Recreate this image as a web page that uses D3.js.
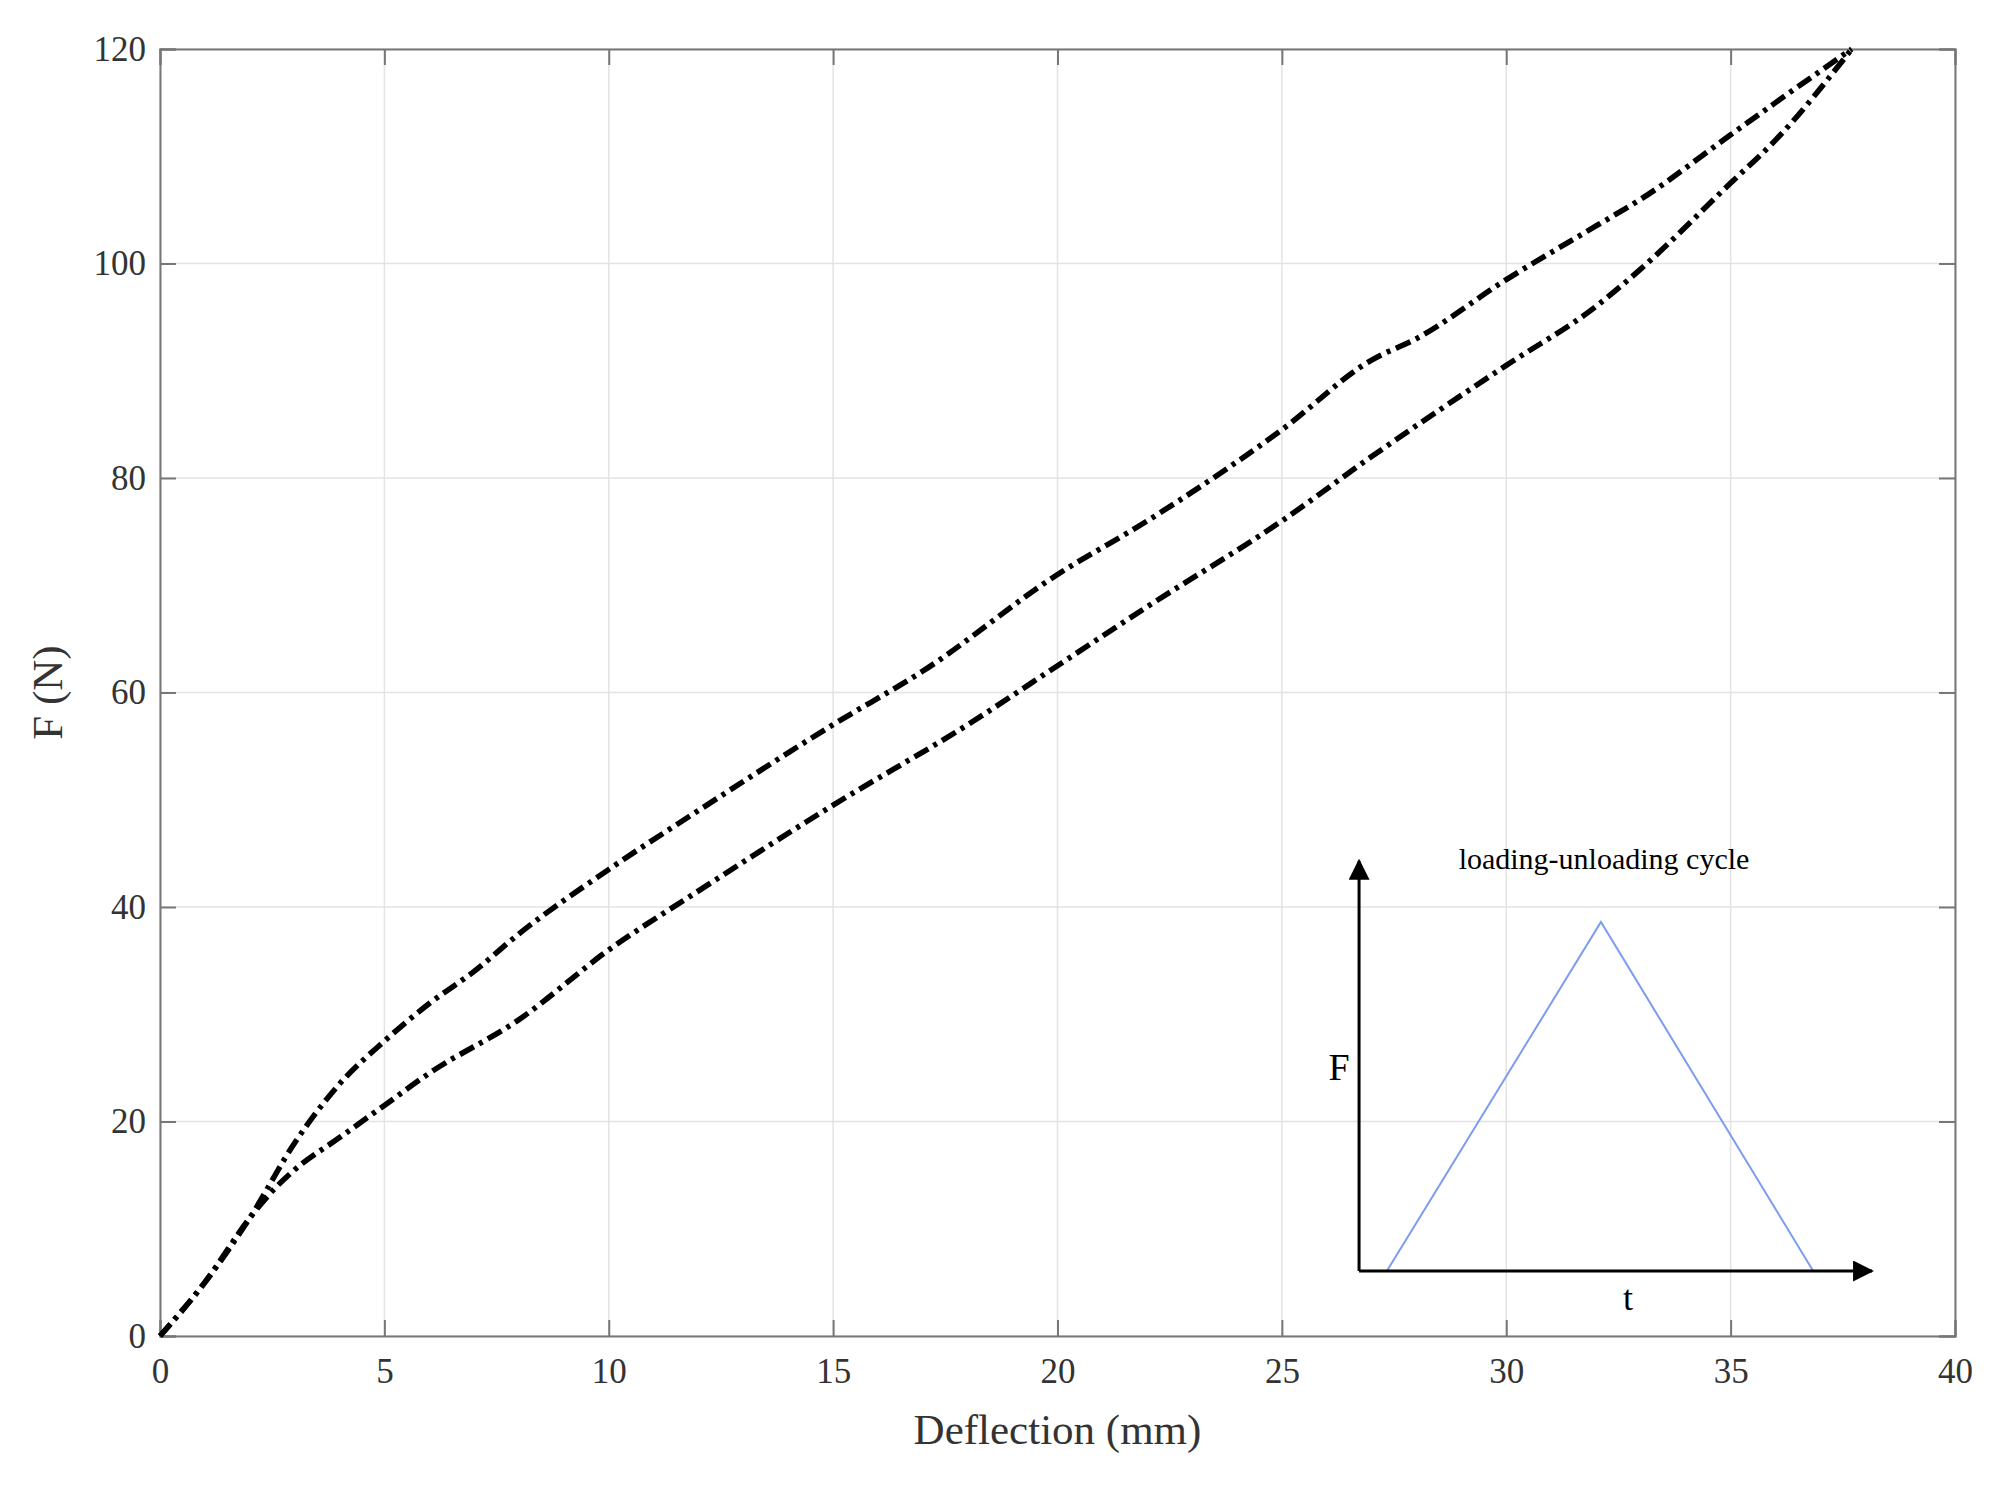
<!DOCTYPE html><html><head><meta charset="utf-8">
<script src="https://cdn.jsdelivr.net/npm/d3@7"></script>
<style>body{margin:0;background:#fff}text{font-family:"Liberation Serif",serif;fill:#333}</style></head><body>
<svg id="c" width="1999" height="1488"></svg>
<script>
const xTicks=[0,5,10,15,20,25,30,35,40];
const yTicks=[0,20,40,60,80,100,120];
const upperX=[0,1,2,3,4,5,6,7,8,10,12,15,17,20,22,25,27,28,30,32,33,35,36,37.7];
const upperF=[0,5,11,18,23.5,27.5,31,34,37.5,43.5,49,57,62,71,76,84.5,91,93,98.5,103.5,106,112,115,120];
const lowerX=[0,1,2,2.5,3,4,5,6,8,10,12,15,18,20,22,25,27,30,32,33,35,36,37.7];
const lowerF=[0,5,11,13.5,15.5,18.5,21.5,24.5,29.5,36,41.5,49.5,57,62.5,68,76,82,90.5,96,99.5,107.5,111.5,120];
const insetTriX=[27.34,32.11,36.84], insetTriF=[6.06,38.6,6.06];
const insetAxisX=[26.72,38.15], insetAxisF=[6.06,44.3];

const svg=d3.select("#c");
const L=160,R=1955,T=49,B=1336;
const x=d3.scaleLinear().domain([0,40]).range([L,R]);
const y=d3.scaleLinear().domain([0,120]).range([B,T]);
const g=svg.append("g");
// grid
g.selectAll(".gx").data(xTicks).join("line").attr("x1",d=>x(d)).attr("x2",d=>x(d)).attr("y1",T).attr("y2",B).attr("stroke","#e3e3e3").attr("stroke-width",1.5);
g.selectAll(".gy").data(yTicks).join("line").attr("y1",d=>y(d)).attr("y2",d=>y(d)).attr("x1",L).attr("x2",R).attr("stroke","#e3e3e3").attr("stroke-width",1.5);
// axes
const ax=svg.append("g").attr("transform",`translate(0,${B})`).call(d3.axisBottom(x).tickValues(xTicks).tickSize(-16).tickPadding(22));
const ay=svg.append("g").attr("transform",`translate(${L},0)`).call(d3.axisLeft(y).tickValues(yTicks).tickSize(-16).tickPadding(14));
svg.append("g").attr("transform",`translate(0,${T})`).call(d3.axisTop(x).tickValues(xTicks).tickSize(-16).tickFormat(""));
svg.append("g").attr("transform",`translate(${R},0)`).call(d3.axisRight(y).tickValues(yTicks).tickSize(-16).tickFormat(""));
svg.selectAll(".domain,.tick line").attr("stroke","#777").attr("stroke-width",2);
svg.selectAll(".tick text").attr("font-size",35).attr("font-family","Liberation Serif").attr("fill","#333");
svg.append("text").attr("x",(L+R)/2).attr("y",1444).attr("text-anchor","middle").attr("font-size",43).text("Deflection (mm)");
svg.append("text").attr("transform",`translate(62,${(T+B)/2}) rotate(-90)`).attr("text-anchor","middle").attr("font-size",43).text("F (N)");
// curves
const line=d3.line().x(d=>x(d[0])).y(d=>y(d[1])).curve(d3.curveMonotoneX);
[[upperX,upperF],[lowerX,lowerF]].forEach(([xs,fs])=>{
 svg.append("path").attr("d",line(xs.map((v,i)=>[v,fs[i]]))).attr("fill","none").attr("stroke","#000").attr("stroke-width",5.5).attr("stroke-dasharray","16,6,4,6");
});
// inset
svg.append("defs").append("marker").attr("id","ar").attr("viewBox","0 0 10 10").attr("refX",9).attr("refY",5).attr("markerWidth",7).attr("markerHeight",7).attr("orient","auto").append("path").attr("d","M0,0L10,5L0,10z").attr("fill","#000");
const tl=d3.line().x(d=>x(d[0])).y(d=>y(d[1]));
svg.append("path").attr("d",tl(insetTriX.map((v,i)=>[v,insetTriF[i]]))).attr("fill","none").attr("stroke","#7b9cf0").attr("stroke-width",2);
svg.append("line").attr("x1",x(insetAxisX[0])).attr("y1",y(insetAxisF[0])).attr("x2",x(insetAxisX[0])).attr("y2",y(insetAxisF[1])).attr("stroke","#000").attr("stroke-width",3).attr("marker-end","url(#ar)");
svg.append("line").attr("x1",x(insetAxisX[0])).attr("y1",y(insetAxisF[0])).attr("x2",x(insetAxisX[1])).attr("y2",y(insetAxisF[0])).attr("stroke","#000").attr("stroke-width",3).attr("marker-end","url(#ar)");
svg.append("text").attr("x",1604).attr("y",869).attr("text-anchor","middle").attr("font-size",30).attr("fill","#000").style("fill","#000").text("loading-unloading cycle");
svg.append("text").attr("x",1339).attr("y",1080).attr("text-anchor","middle").attr("font-size",38).style("fill","#000").text("F");
svg.append("text").attr("x",1628).attr("y",1310).attr("text-anchor","middle").attr("font-size",36).style("fill","#000").text("t");
</script></body></html>
